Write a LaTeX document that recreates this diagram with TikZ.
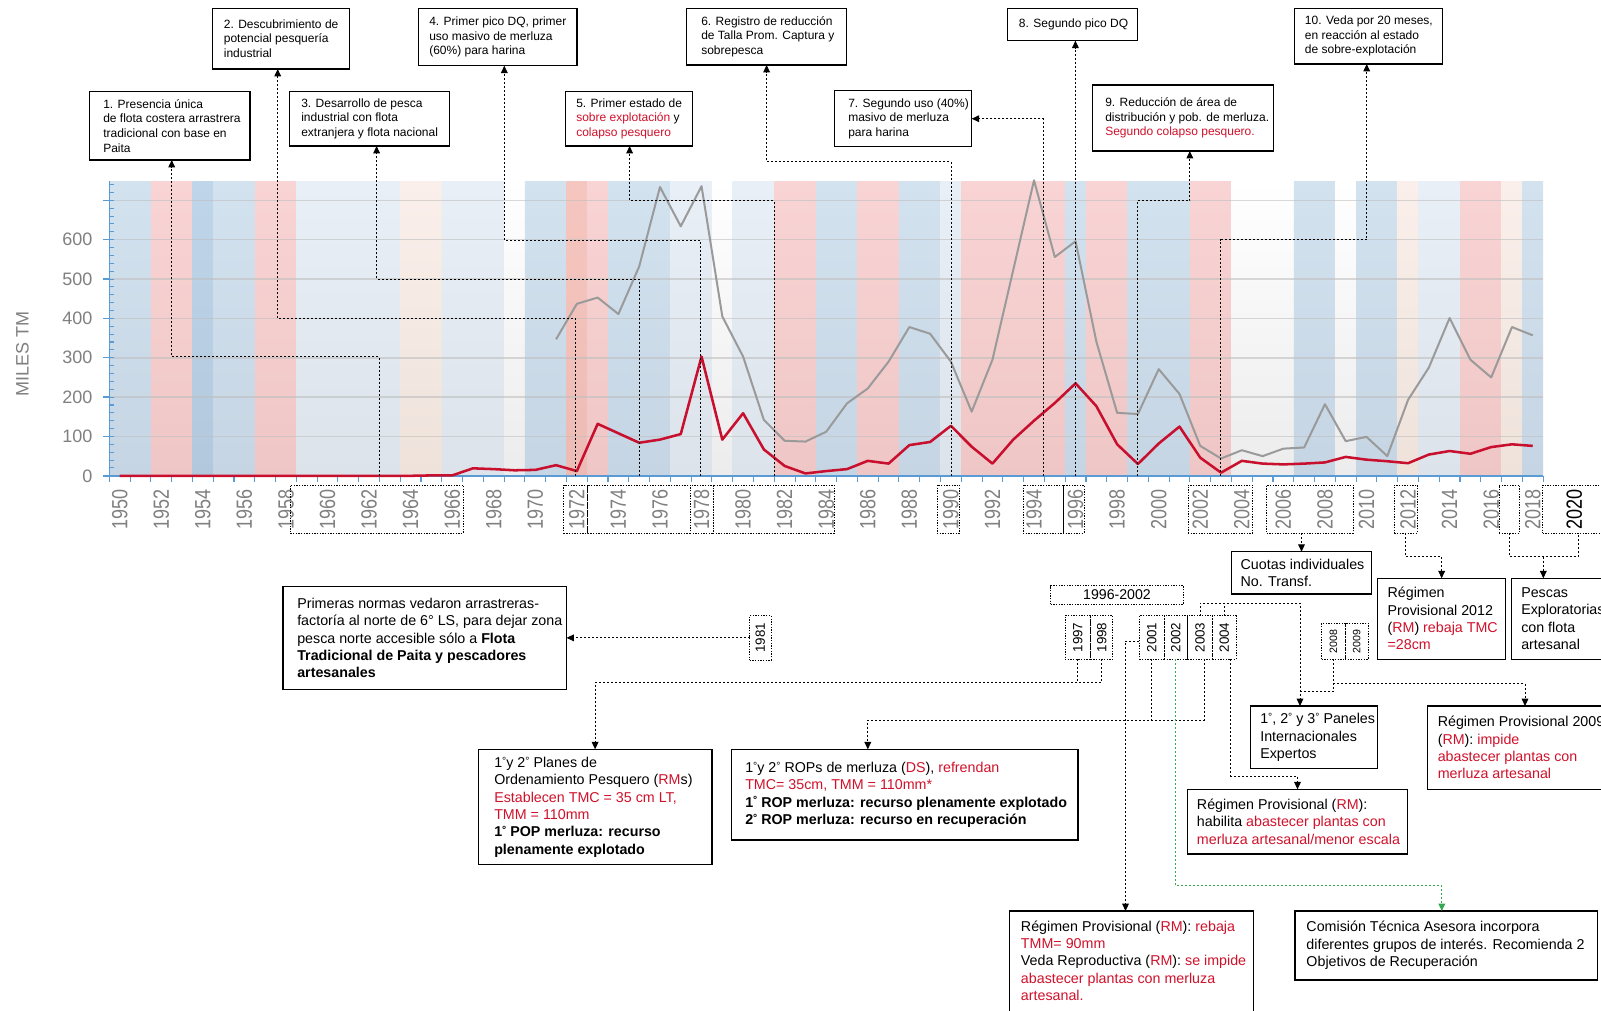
\documentclass[tikz,border=0pt]{standalone}
\usepackage{graphicx}
\usepackage{fontspec}
\setmainfont{Liberation Sans}
\newfontfamily\narrowfont{Liberation Sans}[FakeStretch=0.82]
\usetikzlibrary{arrows.meta}
\definecolor{myred}{HTML}{D0112B}
\definecolor{linered}{HTML}{C8102E}
\definecolor{linegray}{HTML}{9A9A9A}
\definecolor{axisblue}{HTML}{5B9BD5}
\definecolor{labgray}{HTML}{808080}
\definecolor{conngreen}{HTML}{34A853}
\definecolor{pinkT}{HTML}{F9D4D4}\definecolor{pinkB}{HTML}{EFC6C6}
\definecolor{blueT}{HTML}{D2E2EF}\definecolor{blueB}{HTML}{C5D5E3}
\definecolor{lblueT}{HTML}{E8EFF7}\definecolor{lblueB}{HTML}{DCE3EB}
\definecolor{dblueT}{HTML}{BFD5EA}\definecolor{dblueB}{HTML}{B2C8DD}
\definecolor{salT}{HTML}{F5C6BF}\definecolor{salB}{HTML}{EDBBB5}
\definecolor{beigeT}{HTML}{FAEFEA}\definecolor{beigeB}{HTML}{EEE2DB}
\definecolor{whT}{HTML}{FFFFFF}\definecolor{whB}{HTML}{ECECEC}
\newcommand\rd[1]{\textcolor{myred}{#1}}
\newcommand\dg{\raisebox{2.6pt}{\fontsize{7.8}{7.8}\selectfont °}}
\newcommand\band[3]{\shade[top color=#3T,bottom color=#3B] (#1,0) rectangle (#2,749);}
\newcommand\bx[7][box]{\node[#1,minimum width={(#4-#2)*0.75pt},minimum height={(#5-#3)*0.75pt}] (#6) at ({(#2+#4)/2},{(#3+#5)/2}) {#7};}
\begin{document}
\begin{tikzpicture}[x=0.75pt,y=-0.75pt,
  box/.style={draw=black,line width=0.8pt,fill=white,inner sep=0pt,outer sep=0pt},
  lbox/.style={draw=black,line width=0.6pt,dash pattern=on 1pt off 1pt,inner sep=0pt,outer sep=0pt},
  ylb/.style={lbox,font=\fontsize{10}{10}\selectfont},
  txt/.style={inner sep=0pt,align=left,font=\fontsize{9}{11}\selectfont},
  btxt/.style={inner sep=0pt,align=left,font=\fontsize{10.7}{13}\selectfont},
  conn/.style={line width=0.7pt,dash pattern=on 1.5pt off 1.5pt,-{Triangle[length=5.5pt,width=5pt]}},
  link/.style={line width=0.7pt,dash pattern=on 1.5pt off 1.5pt},
  yrlab/.style={inner sep=0pt,anchor=north,text=labgray,font=\narrowfont\fontsize{16.5}{16.5}\selectfont},
  vlab/.style={inner sep=0pt,anchor=east,text=labgray,font=\fontsize{13.5}{13.5}\selectfont},
  gridc/.style={draw=black!25,line width=1.2pt,opacity=0.6},
  axl/.style={draw=axisblue,line width=1.1pt}
]
\useasboundingbox (0,0) rectangle (1601,1010);
\clip (0,0) rectangle (1601,1010);
\fill[white] (0,0) rectangle (1601,1010);

% ---------------- chart ----------------
\begin{scope}[shift={(119.69,475.8)},x=15.585pt,y=0.29513pt]
\band{-0.5}{1.5}{blue}
\band{1.5}{3.5}{pink}
\band{3.5}{4.5}{dblue}
\band{4.5}{6.5}{blue}
\band{6.5}{8.5}{pink}
\band{8.5}{13.5}{lblue}
\band{13.5}{15.5}{beige}
\band{15.5}{18.5}{lblue}
\band{18.5}{19.5}{wh}
\band{19.5}{21.5}{blue}
\band{21.5}{22.5}{sal}
\band{22.5}{23.5}{pink}
\band{23.5}{26.5}{blue}
\band{26.5}{28.5}{lblue}
\band{28.5}{29.5}{wh}
\band{29.5}{31.5}{lblue}
\band{31.5}{33.5}{pink}
\band{33.5}{35.5}{blue}
\band{35.5}{37.5}{pink}
\band{37.5}{39.5}{blue}
\band{39.5}{40.5}{lblue}
\band{40.5}{45.5}{pink}
\band{45.5}{46.5}{blue}
\band{46.5}{48.5}{pink}
\band{48.5}{51.5}{blue}
\band{51.5}{53.5}{pink}
\band{53.5}{56.5}{wh}
\band{56.5}{58.5}{blue}
\band{58.5}{59.5}{wh}
\band{59.5}{61.5}{blue}
\band{61.5}{62.5}{beige}
\band{62.5}{64.5}{lblue}
\band{64.5}{66.5}{pink}
\band{66.5}{67.5}{beige}
\band{67.5}{68.5}{blue}
\foreach \v in {100,200,...,700} \draw[gridc] (-0.5,\v) -- (68.5,\v);
% axes
\draw[axl] (-0.5,0) -- (-0.5,749);
\draw[axl] (-0.5,0) -- (68.5,0);
\foreach \v in {0,100,...,700} \draw[axl] (-0.5,\v) -- ++(-5pt,0);
\foreach \v in {20,40,...,740} \draw[axl,line width=0.8pt] (-0.5,\v) -- ++(3.5pt,0);
\foreach \t in {-0.5,0.5,...,68.5} \draw[axl,line width=0.8pt] (\t,0) -- ++(0,-4.3pt);
% value labels
\foreach \v in {0,100,...,600} \node[vlab,xshift=-12.5pt] (yl\v) at (-0.5,\v) {\v};
% year labels
\foreach \t in {0,2,...,68} {\pgfmathtruncatemacro\yr{1950+\t}
  \node[yrlab,yshift=-9.9pt] (yr\t) at (\t,0) {\rotatebox{90}{\yr}};}
\node[yrlab,yshift=-9.9pt,text=black] (yr70) at (70,0) {\rotatebox{90}{2020}};
% series
\draw[linegray,line width=1.5pt,line join=round]
 (21,347) -- (22,437) -- (23,453) -- (24,411) -- (25,532) -- (26,734) -- (27,634) -- (28,736) -- (29,405) -- (30,303) -- (31,142) -- (32,89) -- (33,87) -- (34,112) -- (35,184) -- (36,222) -- (37,290) -- (38,378) -- (39,361) -- (40,290) -- (41,163) -- (42,295) -- (43,523) -- (44,751) -- (45,556) -- (46,596) -- (47,341) -- (48,160) -- (49,157) -- (50,271) -- (51,208) -- (52,76) -- (53,44) -- (54,65) -- (55,50) -- (56,69) -- (57,72) -- (58,182) -- (59,88) -- (60,99) -- (61,50) -- (62,193) -- (63,275) -- (64,401) -- (65,295) -- (66,250) -- (67,378) -- (68,357);
\draw[linered,line width=1.9pt,line join=round]
 (0,0) -- (14,0) -- (15,1) -- (16,1) -- (17,19) -- (18,17) -- (19,14) -- (20,15) -- (21,27) -- (22,12) -- (23,132) -- (24,108) -- (25,84) -- (26,92) -- (27,106) -- (28,303) -- (29,92) -- (30,159) -- (31,67) -- (32,25) -- (33,6) -- (34,12) -- (35,17) -- (36,38) -- (37,31) -- (38,78) -- (39,86) -- (40,127) -- (41,74) -- (42,31) -- (43,92) -- (44,140) -- (45,185) -- (46,235) -- (47,177) -- (48,80) -- (49,30) -- (50,82) -- (51,125) -- (52,46) -- (53,8) -- (54,38) -- (55,31) -- (56,29) -- (57,31) -- (58,34) -- (59,48) -- (60,41) -- (61,37) -- (62,32) -- (63,54) -- (64,63) -- (65,56) -- (66,73) -- (67,80) -- (68,76);
\end{scope}
\node[rotate=90,inner sep=0pt,text=labgray,font=\fontsize{13.5}{13.5}\selectfont] (ytitle) at (22.5,354) {MILES TM};

% ---------------- year label groups under axis ----------------
\bx[lbox]{290.2}{485}{463.2}{533}{lb1}{}
\bx[lbox]{563.6}{485}{587.8}{533}{lb2}{}
\bx[lbox]{587.8}{485}{690.1}{533}{lb3}{}
\bx[lbox]{690.1}{485}{712.9}{533}{lb4}{}
\bx[lbox]{712.9}{485}{834.1}{533}{lb5}{}
\bx[lbox]{937}{485}{959.7}{533}{lb6}{}
\bx[lbox]{1023}{485}{1063}{533}{lb7}{}
\bx[lbox]{1063}{485}{1084}{533}{lb8}{}
\bx[lbox]{1188}{485}{1252.5}{533}{lb9}{}
\bx[lbox]{1266.6}{485}{1352.9}{533}{lb10}{}
\bx[lbox]{1394.3}{485}{1417.3}{533}{lb11}{}
\bx[lbox]{1499}{485}{1519.7}{533}{lb12}{}
\bx[lbox]{1542.7}{485}{1603}{533}{lb13}{}
\draw[line width=0.6pt] (lb7.north east) -- (lb7.south east);

% ---------------- top connectors ----------------
\coordinate (a1) at (379,476);   \coordinate (k1) at (171.7,356.7);
\coordinate (a2) at (575.5,476); \coordinate (k2) at (277.7,318.3);
\coordinate (a3) at (639,476);   \coordinate (k3) at (376.6,279);
\coordinate (a4) at (700,476);   \coordinate (k4) at (504.3,240);
\coordinate (a5) at (774,476);   \coordinate (k5) at (629.6,200.7);
\coordinate (a6) at (951,476);   \coordinate (k6) at (766.6,161.7);
\coordinate (a7) at (1043,476);
\coordinate (a8) at (1075.4,476);
\coordinate (a9) at (1137,476);  \coordinate (k9) at (1189.8,200.7);
\coordinate (a10) at (1220.8,476); \coordinate (k10) at (1366.7,239.7);

% ---------------- top boxes ----------------
\bx{89.9}{91.7}{250}{160}{b1}{}
\bx{212.5}{8.3}{349.7}{69}{b2}{}
\bx{289.6}{91.7}{449.7}{146}{b3}{}
\bx{418.9}{8.3}{577}{65.7}{b4}{}
\bx{565.2}{91.7}{692.5}{146}{b5}{}
\bx{686.7}{8.3}{846.6}{65}{b6}{}
\bx{834.5}{90.7}{971.7}{146.7}{b7}{}
\bx{1007.6}{8.3}{1137.5}{40.7}{b8}{}
\bx{1092.4}{85}{1273.2}{151}{b9}{}
\bx{1294.6}{8.3}{1442.7}{64}{b10}{}

\draw[conn] (a1) |- (k1) -- (k1 |- b1.south);
\draw[conn] (a2) |- (k2) -- (k2 |- b2.south);
\draw[conn] (a3) |- (k3) -- (k3 |- b3.south);
\draw[conn] (a4) |- (k4) -- (k4 |- b4.south);
\draw[conn] (a5) |- (k5) -- (k5 |- b5.south);
\draw[conn] (a6) |- (k6) -- (k6 |- b6.south);
\draw[conn] (a7) |- (b7.east);
\draw[conn] (a8) -- (a8 |- b8.south);
\draw[conn] (a9) |- (k9) -- (k9 |- b9.south);
\draw[conn] (a10) |- (k10) -- (k10 |- b10.south);

\node[txt,anchor=west] (t1) at (103,125.85) {1. Presencia única\\de flota costera arrastrera\\tradicional con base en\\Paita};
\node[txt,anchor=west] (t2) at (223.6,38.65) {2. Descubrimiento de\\potencial pesquería\\industrial};
\node[txt,anchor=west] (t3) at (301,118.85) {3. Desarrollo de pesca\\industrial con flota\\extranjera y flota nacional};
\node[txt,anchor=west] (t4) at (429,37) {4. Primer pico DQ, primer\\uso masivo de merluza\\(60\%) para harina};
\node[txt,anchor=west] (t5) at (576,118.85) {5. Primer estado de\\\rd{sobre explotación} y\\\rd{colapso pesquero}};
\node[txt,anchor=west] (t6) at (701,36.65) {6. Registro de reducción\\de Talla Prom. Captura y\\sobrepesca};
\node[txt,anchor=west] (t7) at (848,118.7) {7. Segundo uso (40\%)\\masivo de merluza\\para harina};
\node[txt,anchor=west] (t8) at (1018.7,24.5) {8. Segundo pico DQ};
\node[txt,anchor=west] (t9) at (1105,118) {9. Reducción de área de\\distribución y pob. de merluza.\\\rd{Segundo colapso pesquero.}};
\node[txt,anchor=west] (t10) at (1304.7,36.15) {10. Veda por 20 meses,\\en reacción al estado\\de sobre-explotación};

% ---------------- bottom year boxes ----------------
\bx[ylb]{749.6}{615.7}{771}{660}{y1981}{\rotatebox{90}{1981}}
\bx[ylb]{1050.7}{585.7}{1183.3}{604.3}{yr9602}{\fontsize{10.6}{10.6}\selectfont 1996-2002}
\bx[ylb]{1065}{615.7}{1090.7}{659.3}{y1997}{\rotatebox{90}{1997}}
\bx[ylb]{1090.7}{615.7}{1112.7}{659.3}{y1998}{\rotatebox{90}{1998}}
\bx[ylb]{1139.3}{615.7}{1164}{659.3}{y2001}{\rotatebox{90}{2001}}
\bx[ylb]{1164}{615.7}{1187.7}{659.3}{y2002}{\rotatebox{90}{2002}}
\bx[ylb]{1187.7}{615.7}{1212.3}{659.3}{y2003}{\rotatebox{90}{2003}}
\bx[ylb]{1212.3}{615.7}{1236}{659.3}{y2004}{\rotatebox{90}{2004}}
\bx[ylb,font=\fontsize{8}{8}\selectfont]{1321.7}{623.3}{1345}{659.3}{y2008}{\rotatebox{90}{2008}}
\bx[ylb,font=\fontsize{8}{8}\selectfont]{1345}{623.3}{1368.3}{659.3}{y2009}{\rotatebox{90}{2009}}

% ---------------- bottom boxes ----------------
\bx{283}{586.7}{566.5}{689.3}{pr}{}
\bx{1231.7}{551.7}{1371.3}{594}{cu}{}
\bx{1377.4}{578.3}{1505.9}{659.3}{rp12}{}
\bx{1511.8}{578.3}{1660}{659.3}{pe}{}
\bx{478.2}{749.3}{712}{864.8}{planes}{}
\bx{731.3}{749.3}{1078}{840}{rops}{}
\bx{1250.9}{706}{1377.4}{768.3}{pa}{}
\bx{1427.6}{706}{1660}{789.3}{rp09}{}
\bx{1187.2}{789.3}{1407.8}{854}{rh}{}
\bx{1009.7}{911}{1253.6}{1025}{rr}{}
\bx{1295}{911}{1597.6}{980}{com}{}

% ---------------- bottom connectors ----------------
\coordinate (m1) at (0,556.7);
\coordinate (m2) at (1578.3,556.7);
\coordinate (m3) at (1543.3,556.7);
\coordinate (h1) at (0,682.3);
\coordinate (h2) at (867.8,720);
\coordinate (h3) at (1125.5,641);
\coordinate (h4) at (1441.8,885.7);
\coordinate (h5) at (1300,603);
\coordinate (h6) at (1300,691.7);
\coordinate (h7) at (1525,683.3);
\coordinate (h8) at (0,776);

\draw[conn] (lb10.south -| cu.north) -- (cu.north);
\draw[conn] (lb11.south) -- (lb11.south |- m1) -| (rp12.north);
\draw[link] (lb12.south) |- (m2) -- (m2 |- lb13.south);
\draw[conn] (m3) -- (m3 |- pe.north);
\draw[conn] (y1981.west) -- (y1981.west -| pr.east);
\draw[link] (y1997.south) -- (y1997.south |- h1);
\draw[conn] (y1998.south) |- (h1 -| planes.north) -- (planes.north);
\draw[link] (y2001.south) -- (y2001.south |- h2);
\draw[conn] ([xshift=3.4pt]y2003.south) |- (h2) -- (h2 |- rops.north);
\draw[conn] (y2001.west |- h3) -- (h3) -- (h3 |- rr.north);
\draw[conn,draw=conngreen] (y2002.south) |- (h4) -- (h4 |- com.north);
\draw[link] (y2004.north) -- (y2004.north |- h5);
\draw[conn] (y2003.north) |- (h5) -- (h5 |- pa.north);
\draw[link] (y2008.south) |- (h6);
\draw[conn] (y2008.south |- h7) -- (h7) -- (h7 |- rp09.north);
\draw[conn] ([xshift=5pt]y2004.south) |- (h8 -| rh.north) -- (rh.north);

% ---------------- bottom texts ----------------
\node[btxt,anchor=west] (tpr) at (297,638) {Primeras normas vedaron arrastreras-\\factoría al norte de 6° LS, para dejar zona\\pesca norte accesible sólo a \textbf{Flota}\\\textbf{Tradicional de Paita y pescadores}\\\textbf{artesanales}};
\node[btxt,anchor=west] (tcu) at (1240.4,572.85) {Cuotas individuales\\No. Transf.};
\node[btxt,anchor=west] (trp12) at (1387.3,618.8) {Régimen\\Provisional 2012\\(\rd{RM}) \rd{rebaja TMC}\\\rd{=28cm}};
\node[btxt,anchor=west] (tpe) at (1521,618.8) {Pescas\\Exploratorias\\con flota\\artesanal};
\node[btxt,anchor=west] (tpl) at (494,807) {1\dg y 2\dg{} Planes de\\Ordenamiento Pesquero (\rd{RM}s)\\\rd{Establecen TMC = 35 cm LT,}\\\rd{TMM = 110mm}\\\textbf{1\dg{} POP merluza: recurso}\\\textbf{plenamente explotado}};
\node[btxt,anchor=west] (tro) at (745,794.65) {1\dg y 2\dg{} ROPs de merluza (\rd{DS}), \rd{refrendan}\\\rd{TMC= 35cm, TMM = 110mm*}\\\textbf{1\dg{} ROP merluza: recurso plenamente explotado}\\\textbf{2\dg{} ROP merluza: recurso en recuperación}};
\node[btxt,anchor=west] (tpa) at (1260,737.15) {1\dg, 2\dg{} y 3\dg{} Paneles\\Internacionales\\Expertos};
\node[btxt,anchor=west] (trp09) at (1437.5,747.65) {Régimen Provisional 2009\\(\rd{RM}): \rd{impide}\\\rd{abastecer plantas con}\\\rd{merluza artesanal}};
\node[btxt,anchor=west] (trh) at (1196.7,821.65) {Régimen Provisional (\rd{RM}):\\habilita \rd{abastecer plantas con}\\\rd{merluza artesanal/menor escala}};
\node[btxt,anchor=west] (trr) at (1020.7,960.7) {Régimen Provisional (\rd{RM}): \rd{rebaja}\\\rd{TMM= 90mm}\\Veda Reproductiva (\rd{RM}): \rd{se impide}\\\rd{abastecer plantas con merluza}\\\rd{artesanal.}};
\node[btxt,anchor=west] (tcom) at (1306.2,945.5) {Comisión Técnica Asesora incorpora\\diferentes grupos de interés. Recomienda 2\\Objetivos de Recuperación};
\end{tikzpicture}
\end{document}
